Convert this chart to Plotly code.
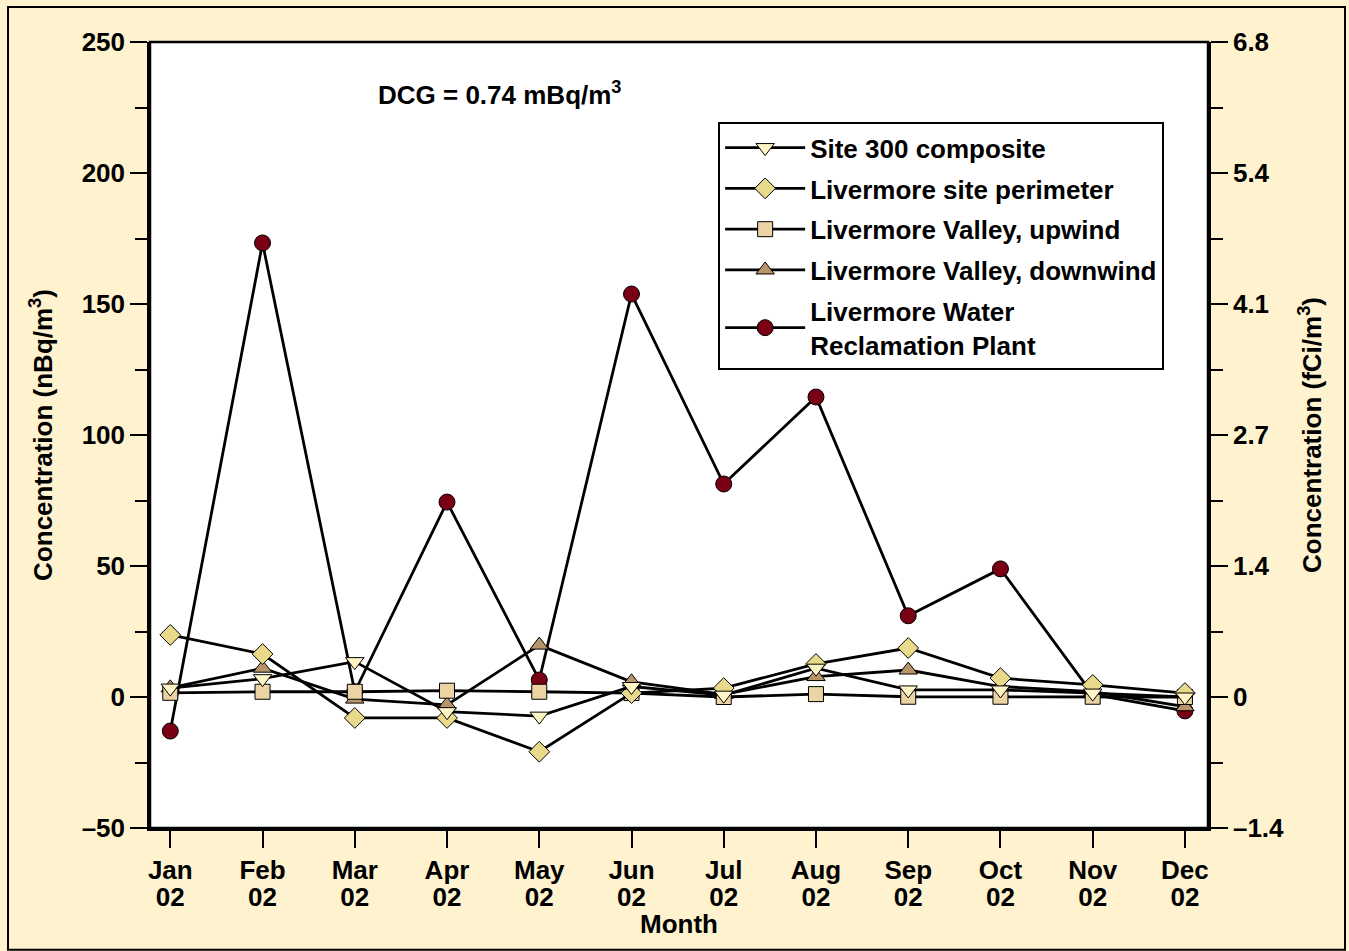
import plotly.graph_objects as go

# Monthly concentrations, nBq/m3 (2002)
month_names = ["Jan", "Feb", "Mar", "Apr", "May", "Jun",
               "Jul", "Aug", "Sep", "Oct", "Nov", "Dec"]
year_label = "02"
site300 = [3.4, 7.0, 13.5, -5.6, -7.3, 4.0, 0.7, 11.0, 2.7, 2.7, 1.5, 0.0]
perimeter = [23.7, 16.4, -8.0, -8.0, -20.9, 1.5, 3.4, 12.6, 18.7, 7.2, 4.6, 1.5]
upwind = [1.6, 2.0, 2.0, 2.4, 2.0, 1.5, 0.0, 1.1, 0.1, 0.1, 0.1, 0.0]
downwind = [3.5, 11.0, -0.8, -3.0, 19.8, 5.8, 1.0, 7.8, 10.3, 4.0, 2.0, -3.7]
reclamation = [-13.0, 173.3, 2.0, 74.4, 6.5, 153.8, 81.3, 114.5, 31.0, 48.9, 1.0, -5.3]

left_ticks = [-50, 0, 50, 100, 150, 200, 250]
left_text = ["–50", "0", "50", "100", "150", "200", "250"]
right_text = ["–1.4", "0", "1.4", "2.7", "4.1", "5.4", "6.8"]

x = list(range(len(month_names)))
FONT = "Liberation Sans, Arial, sans-serif"
BG = "#FFF2CE"

# drawing order (bottom to top); legendrank gives the listed order in the legend
series = [
    ("Livermore Water<br>Reclamation Plant", reclamation, "circle", "#7A0016", 16, 5),
    ("Livermore Valley, downwind", downwind, "triangle-up", "#B8946A", 16, 4),
    ("Livermore Valley, upwind", upwind, "square", "#EBD3A3", 15, 3),
    ("Livermore site perimeter", perimeter, "diamond", "#E9DA8B", 16, 2),
    ("Site 300 composite", site300, "triangle-down", "#FFF4C6", 16, 1),
]

fig = go.Figure()
for name, vals, sym, col, sz, rank in series:
    fig.add_trace(go.Scatter(
        x=x, y=vals, name=name, mode="lines+markers",
        legendgroup=f"g{rank}", legendrank=rank,
        line=dict(color="black", width=2.8),
        marker=dict(symbol=sym, color=col, size=sz, line=dict(color="black", width=1)),
    ))

# invisible trace carrying the right-hand axis and the second row of month labels
fig.add_trace(go.Scatter(x=[0], y=[0], xaxis="x2", yaxis="y2", mode="markers",
                         marker=dict(opacity=0), showlegend=False, hoverinfo="skip"))

tick_font = dict(family=FONT, size=26, color="black", weight="bold")
title_font = dict(family=FONT, size=26, color="black", weight="bold")
axis_common = dict(
    showgrid=False, zeroline=False, showline=True, linecolor="black", linewidth=2.5,
    ticks="outside", ticklen=17, tickwidth=1.5, tickcolor="black", tickfont=tick_font,
)
minor_ticks = dict(dtick=25, tick0=0, ticks="outside", ticklen=12, tickwidth=1.5, tickcolor="black")

fig.update_layout(
    width=1349, height=951,
    paper_bgcolor=BG, plot_bgcolor="white",
    margin=dict(l=150, r=141, t=42, b=123),
    font=dict(family=FONT, color="black"),
    xaxis=dict(
        axis_common, range=[-0.22, 11.25], tickvals=x, ticktext=month_names,
        title=dict(text="Month", font=title_font, standoff=31),
    ),
    xaxis2=dict(
        overlaying="x", side="bottom", anchor="y", matches="x", range=[-0.22, 11.25],
        tickvals=x, ticktext=[year_label] * len(x), showgrid=False, zeroline=False,
        showline=False, ticks="", tickfont=tick_font, ticklabelstandoff=51,
    ),
    yaxis=dict(
        axis_common, range=[-50, 250], tickvals=left_ticks, ticktext=left_text,
        minor=minor_ticks,
        title=dict(text="Concentration (nBq/m<sup>3</sup>)", font=title_font, standoff=22),
    ),
    yaxis2=dict(
        axis_common, overlaying="y", side="right", range=[-50, 250],
        tickvals=left_ticks, ticktext=right_text, minor=minor_ticks,
        title=dict(text="Concentration (fCi/m<sup>3</sup>)", font=title_font, standoff=20),
    ),
    legend=dict(
        x=0.537, y=0.898, xanchor="left", yanchor="top",
        bgcolor="white", bordercolor="black", borderwidth=2,
        font=dict(family=FONT, size=26, color="black", weight="bold"),
        traceorder="grouped", tracegroupgap=4, itemwidth=80,
    ),
    showlegend=True,
)

# plot frame edges
fig.add_shape(type="rect", xref="paper", yref="paper", x0=0, x1=1, y0=0, y1=1,
              line=dict(color="black", width=2.5))
# outer page border
fig.add_shape(type="rect", xref="paper", yref="paper",
              x0=-0.1342, x1=1.1295, y0=-0.155, y1=1.0445,
              line=dict(color="black", width=2), layer="below")

fig.add_annotation(
    x=0.214, y=0.935, xref="paper", yref="paper", xanchor="left", yanchor="middle",
    text="DCG = 0.74 mBq/m<sup>3</sup>", showarrow=False,
    font=dict(family=FONT, size=26, color="black", weight="bold"),
)

fig.write_html("out.html")
